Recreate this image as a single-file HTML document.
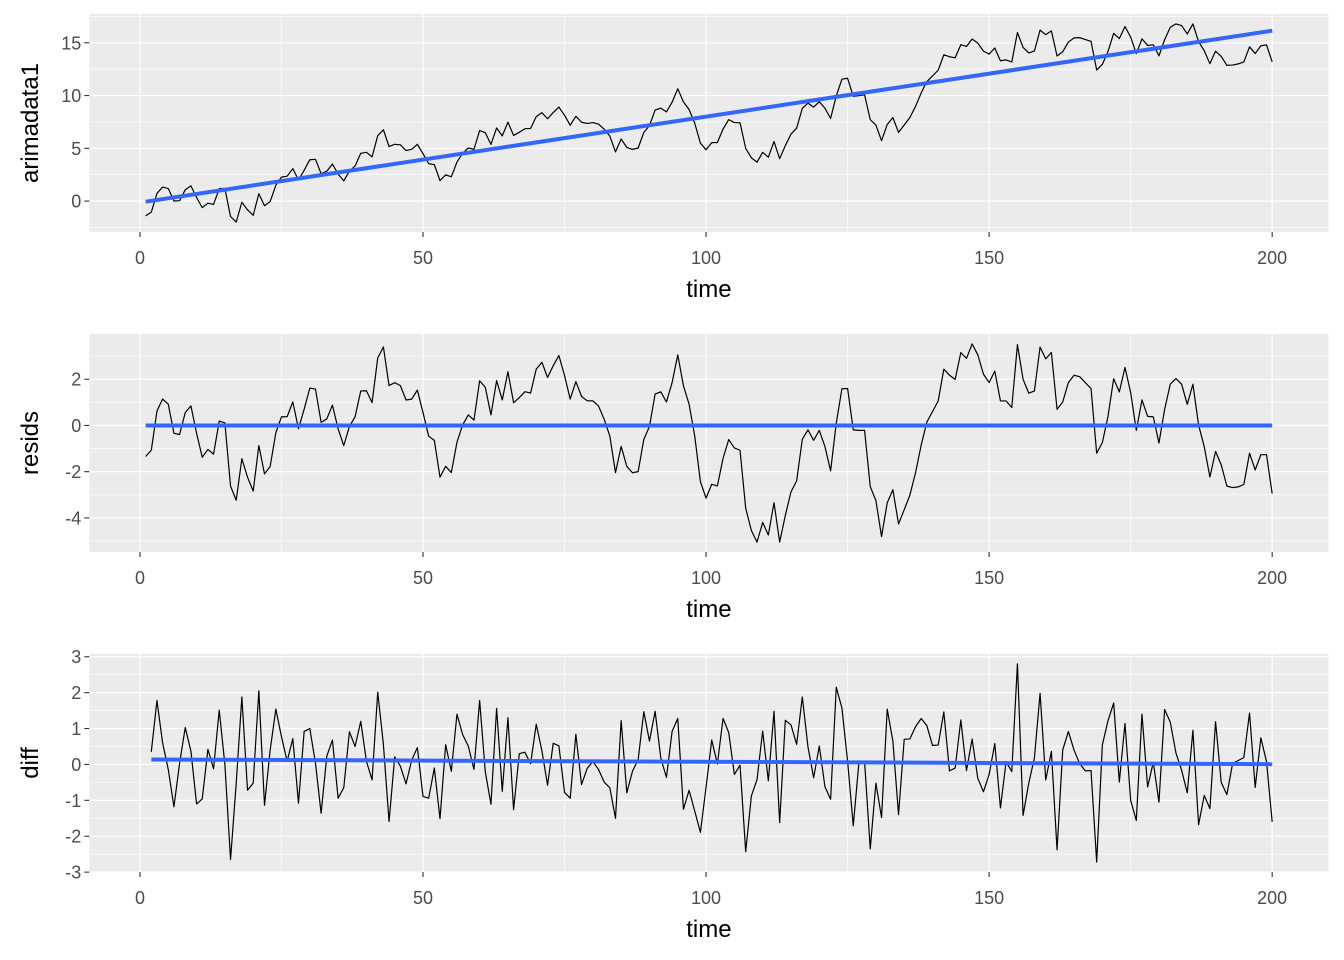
<!DOCTYPE html>
<html><head><meta charset="utf-8">
<style>
html,body{margin:0;padding:0;background:#fff;}
svg{display:block;font-family:"Liberation Sans",Arial,sans-serif;}
</style></head>
<body>
<svg id="chart" width="1344" height="960" viewBox="0 0 1344 960" xmlns="http://www.w3.org/2000/svg"></svg>
<script>
const arimadata1 = [-1.4,-1.05,0.73,1.33,1.19,0.01,0.04,1.07,1.44,0.34,
-0.62,-0.2,-0.32,1.19,1.19,-1.46,-1.99,-0.11,-0.83,-1.35,
0.7,-0.44,-0.04,1.5,2.27,2.36,3.08,2.0,2.92,3.92,
3.96,2.6,2.83,3.51,2.57,1.92,2.83,3.33,4.53,4.62,
4.19,6.2,6.76,5.17,5.38,5.33,4.79,4.91,5.38,4.49,
3.55,3.45,1.94,2.49,2.3,3.7,4.53,5.04,4.9,6.68,
6.48,5.37,6.93,6.18,7.48,6.22,6.52,6.86,6.88,8.0,
8.38,7.8,8.39,8.91,8.13,7.19,8.03,7.47,7.36,7.44,
7.3,6.81,6.16,4.66,5.88,5.09,4.9,5.03,6.5,7.15,
8.63,8.81,8.45,9.37,10.65,9.4,8.68,7.38,5.49,4.86,
5.54,5.55,6.83,7.72,7.44,7.42,4.99,4.11,3.69,4.62,
4.16,5.64,4.02,5.25,6.35,6.91,8.79,9.28,8.91,9.42,
8.8,7.83,9.98,11.55,11.64,9.93,9.99,10.07,7.72,7.2,
5.72,7.26,7.91,6.51,7.21,7.92,8.97,10.25,11.33,11.86,
12.4,13.86,13.68,13.58,14.82,14.65,15.36,14.97,14.21,13.93,
14.51,13.3,13.38,13.18,15.98,14.56,14.04,14.22,16.2,15.77,
16.13,13.75,14.15,15.07,15.47,15.49,15.31,15.14,12.42,12.96,
14.18,15.89,15.4,16.54,15.54,13.98,15.38,14.75,14.81,13.76,
15.29,16.47,16.79,16.63,15.84,16.79,15.11,14.25,13.02,14.21,
13.71,12.87,12.89,13.0,13.19,14.62,13.98,14.72,14.8,13.2];
const xTicks = [0,50,100,150,200];
const xMinor = [25,75,125,175];
const yTicks1 = [0,5,10,15];
const yTicks2 = [-4,-2,0,2];
const yTicks3 = [-3,-2,-1,0,1,2,3];

const NS = "http://www.w3.org/2000/svg";
const svg = document.getElementById('chart');
function mk(tag, attrs, parent){
  const e = document.createElementNS(NS, tag);
  for (const k in attrs) e.setAttribute(k, attrs[k]);
  (parent||svg).appendChild(e);
  return e;
}
function lm(xs, ys){
  const n = xs.length;
  let mx=0,my=0; for(let i=0;i<n;i++){mx+=xs[i];my+=ys[i];} mx/=n; my/=n;
  let sxy=0,sxx=0; for(let i=0;i<n;i++){sxy+=(xs[i]-mx)*(ys[i]-my);sxx+=(xs[i]-mx)**2;}
  const b = sxy/sxx; return {a: my-b*mx, b: b};
}
const time = arimadata1.map((_, i) => i + 1);
const fit1 = lm(time, arimadata1);
const resids = arimadata1.map((v, i) => v - (fit1.a + fit1.b * time[i]));
const diffT = time.slice(1);
const diffV = arimadata1.slice(1).map((v, i) => v - arimadata1[i]);

const X0 = 89.3, X1 = 1328.5;
const xmin = 1 - 0.05*199, xmax = 200 + 0.05*199;
const sx = v => X0 + (v - xmin) / (xmax - xmin) * (X1 - X0);

function panel(idx, top, bottom, xs, ys, yTicks, yTitle, minorFn){
  const g = mk('g', {});
  
  
  let lo = Math.min(...ys), hi = Math.max(...ys);
  const r = hi - lo; lo -= r*0.05; hi += r*0.05;
  const sy = v => bottom - (v - lo) / (hi - lo) * (bottom - top);
  const bg = mk('rect', {x:X0, y:top, width:X1-X0, height:bottom-top, fill:'#EBEBEB'}, g);
  
  
  // minor grid
  const minors = [];
  for (let i=0;i<yTicks.length-1;i++) minors.push((yTicks[i]+yTicks[i+1])/2);
  const st = yTicks[1]-yTicks[0];
  minors.push(yTicks[0]-st/2, yTicks[yTicks.length-1]+st/2);
  minors.forEach(m => { const y = sy(m); if (y>top && y<bottom) mk('line',{x1:X0,x2:X1,y1:y,y2:y,stroke:'#fff','stroke-width':0.6},g); });
  xMinor.forEach(m => { const x = sx(m); mk('line',{x1:x,x2:x,y1:top,y2:bottom,stroke:'#fff','stroke-width':0.6},g); });
  // major grid
  yTicks.forEach(t => { const y = sy(t); mk('line',{x1:X0,x2:X1,y1:y,y2:y,stroke:'#fff','stroke-width':1.2},g); });
  xTicks.forEach(t => { const x = sx(t); mk('line',{x1:x,x2:x,y1:top,y2:bottom,stroke:'#fff','stroke-width':1.2},g); });
  // data line
  const pts = xs.map((x,i)=> sx(x).toFixed(2)+','+sy(ys[i]).toFixed(2)).join(' ');
  const line = mk('polyline',{points:pts,fill:'none',stroke:'#000','stroke-width':1.2,'stroke-linejoin':'round'},g);
  
  
  // smooth (lm)
  const f = lm(xs, ys);
  const xa = xs[0], xb = xs[xs.length-1];
  const sm = mk('line',{x1:sx(xa),y1:sy(f.a+f.b*xa),x2:sx(xb),y2:sy(f.a+f.b*xb),stroke:'#3366FF','stroke-width':4},g);
  
  
  // y ticks
  yTicks.forEach(t => {
    const y = sy(t);
    mk('line',{x1:X0-5,x2:X0,y1:y,y2:y,stroke:'#333','stroke-width':1.1},g);
    const tx = mk('text',{x:X0-8,y:y+6.5,'text-anchor':'end','font-size':18,fill:'#4D4D4D'},g);
    tx.textContent = t;
    
    
  });
  // x ticks
  xTicks.forEach(t => {
    const x = sx(t);
    mk('line',{x1:x,x2:x,y1:bottom,y2:bottom+5,stroke:'#333','stroke-width':1.1},g);
    const tx = mk('text',{x:x,y:bottom+32,'text-anchor':'middle','font-size':18,fill:'#4D4D4D'},g);
    tx.textContent = t;
    
    
  });
  const xt = mk('text',{x:(X0+X1)/2,y:bottom+65,'text-anchor':'middle','font-size':24,fill:'#000'},g);
  xt.textContent = 'time';
  
  
  const cy = (top+bottom)/2;
  const yt = mk('text',{x:38,y:cy,'text-anchor':'middle','font-size':24,fill:'#000',transform:'rotate(-90 38 '+cy+')'},g);
  yt.textContent = yTitle;
  
  
}
panel(1, 14, 232, time, arimadata1, yTicks1, 'arimadata1');
panel(2, 334, 552, time, resids, yTicks2, 'resids');
panel(3, 654, 872, diffT, diffV, yTicks3, 'diff');
</script>
</body></html>
